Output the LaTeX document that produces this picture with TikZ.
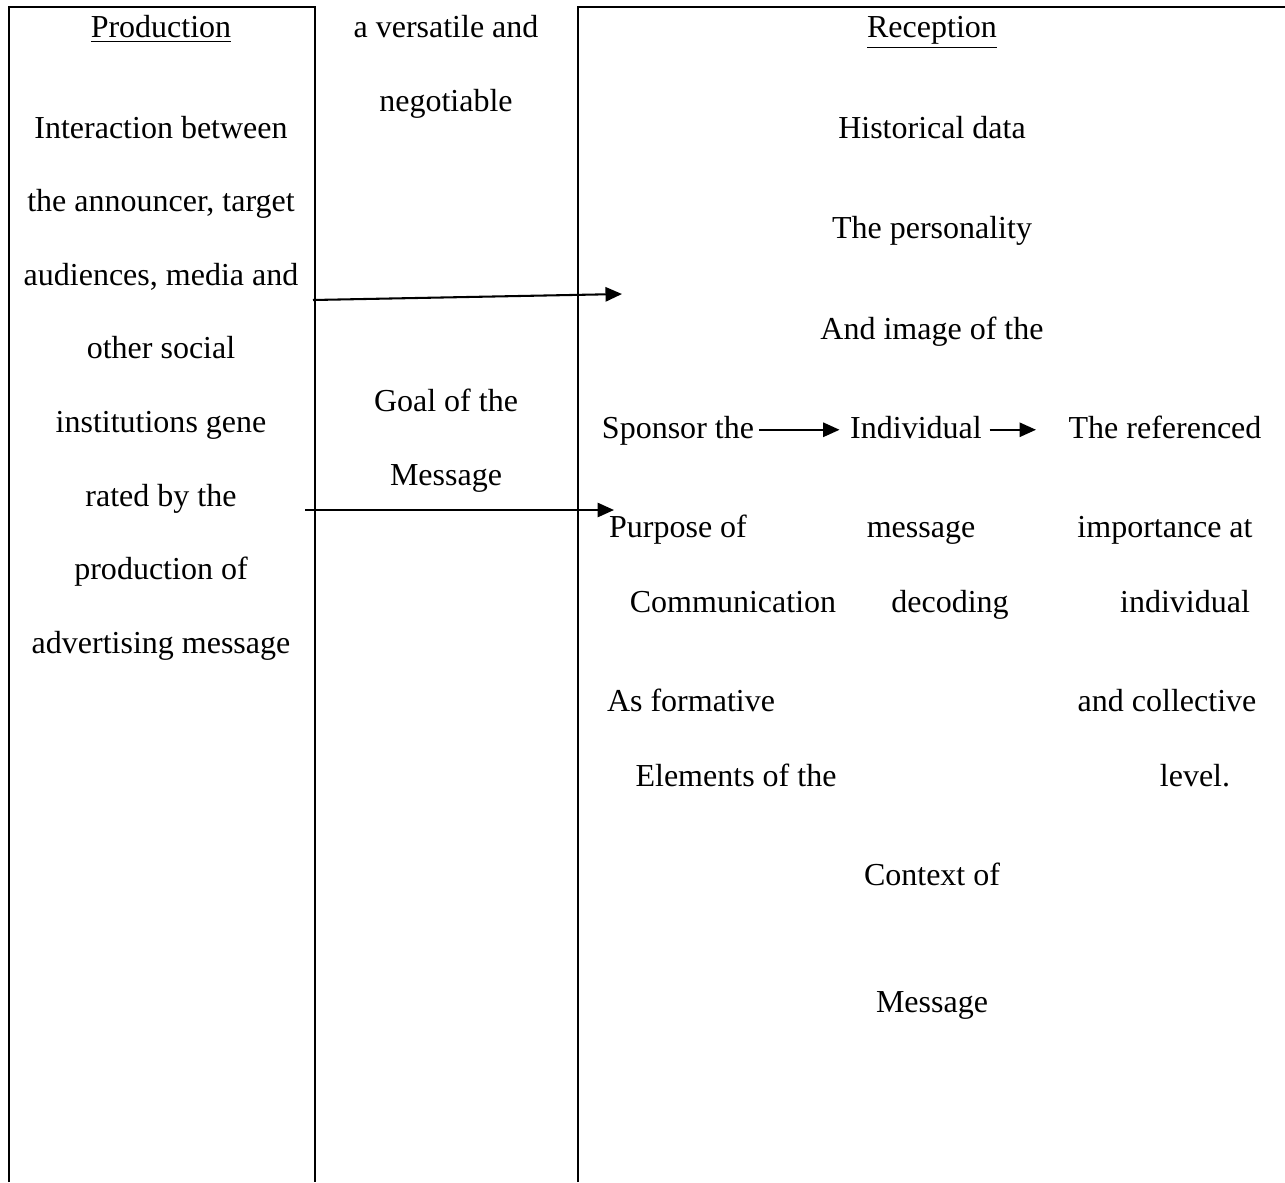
\documentclass[tikz,border=0pt]{standalone}
\usepackage{fontspec}
\setmainfont{Liberation Serif}
\usetikzlibrary{arrows.meta}
\begin{document}
\begin{tikzpicture}[x=0.364pt, y=-0.364pt, line width=0.75pt,
    txt/.style={anchor=base, inner sep=0pt, font=\fontsize{11.65}{14}\selectfont},
    flow/.style={-{Triangle[length=6pt,width=5.2pt]}}]
    \useasboundingbox (0,0) rectangle (1285,1182);
    % columns of the table
    \draw (9,1182) -- (9,7) -- (315,7) -- (315,1182);
    \draw (578,1182) -- (578,7) -- (1285,7);
    % production column
    \node[txt] (prod) at (161,37) {\underline{Production}};
    \foreach \line [count=\i from 0] in {Interaction between, {the announcer, target},
        {audiences, media and}, other social, institutions gene, rated by the,
        production of, advertising message}
        \node[txt] (p\i) at (161,138+73.6*\i) {\line};
    % middle column
    \node[txt] (vers) at (446,37) {a versatile and};
    \node[txt] (nego) at (446,111) {negotiable};
    \node[txt] (goal) at (446,411) {Goal of the};
    \node[txt] (gmsg) at (446,485) {Message};
    % reception column
    \node[txt] (recp) at (932,37) {\underline{Reception}};
    \node[txt] (hist) at (932,138) {Historical data};
    \node[txt] (pers) at (932,238) {The personality};
    \node[txt] (img) at (932,339) {And image of the};
    \node[txt] (spon) at (678,438) {Sponsor the};
    \node[txt] (indv) at (916,438) {Individual};
    \node[txt] (refd) at (1165,438) {The referenced};
    \node[txt] (purp) at (678,537) {Purpose of};
    \node[txt] (mesg) at (921,537) {message};
    \node[txt] (impo) at (1165,537) {importance at};
    \node[txt] (comm) at (733,612) {Communication};
    \node[txt] (deco) at (950,612) {decoding};
    \node[txt] (indl) at (1185,612) {individual};
    \node[txt] (form) at (691,711) {As formative};
    \node[txt] (coll) at (1167,711) {and collective};
    \node[txt] (elem) at (736,786) {Elements of the};
    \node[txt] (levl) at (1195,786) {level.};
    \node[txt] (ctxt) at (932,885) {Context of};
    \node[txt] (cmsg) at (932,1012) {Message};
    % arrows
    \coordinate (a1s) at (313,300);
    \coordinate (a1e) at (622,294);
    \coordinate (a2s) at (305,510);
    \coordinate (a2e) at (614,510);
    \draw[flow] (a1s) -- (a1e);
    \draw[flow] (a2s) -- (a2e);
    \draw[flow, shorten <=1.5pt, shorten >=3.5pt] ([yshift=3pt]spon.base east) -- ([yshift=3pt]indv.base west);
    \draw[flow, shorten <=2.5pt, shorten >=11.5pt] ([yshift=3pt]indv.base east) -- ([yshift=3pt]refd.base west);
\end{tikzpicture}
\end{document}
